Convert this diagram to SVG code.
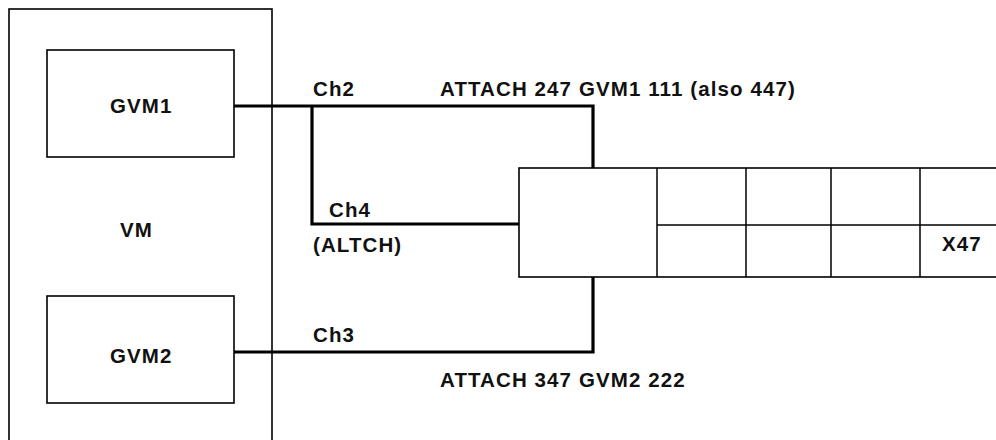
<svg xmlns="http://www.w3.org/2000/svg" width="996" height="440" viewBox="0 0 996 440">
<style>
.box{fill:#fff;stroke:#000;stroke-width:1.6}
.ln{fill:none;stroke:#000;stroke-width:1.5}
.conn{fill:none;stroke:#000;stroke-width:3.2;stroke-linejoin:miter}
text{font-family:"Liberation Sans",Arial,sans-serif;font-size:20.5px;font-weight:bold;letter-spacing:1.1px;fill:#111}
</style>
<rect width="996" height="440" fill="#fff"/>
<g id="vm">
<rect class="box" x="9" y="9" width="263" height="440"/>
<text x="120" y="237">VM</text>
</g>
<g id="gvm1">
<rect class="box" x="47" y="50" width="187" height="107"/>
<text x="110" y="113">GVM1</text>
</g>
<g id="gvm2">
<rect class="box" x="47" y="296" width="187" height="107"/>
<text x="110" y="363">GVM2</text>
</g>
<g id="connectors">
<polyline class="conn" points="234,106 593,106 593,168"/>
<polyline class="conn" points="312,106 312,224 519,224"/>
<polyline class="conn" points="234,352 593,352 593,277"/>
</g>
<g id="x47">
<rect class="box" x="519" y="168" width="490" height="109"/>
<line class="ln" x1="657" y1="168" x2="657" y2="277"/>
<line class="ln" x1="746" y1="168" x2="746" y2="277"/>
<line class="ln" x1="831" y1="168" x2="831" y2="277"/>
<line class="ln" x1="920" y1="168" x2="920" y2="277"/>
<line class="ln" x1="657" y1="225" x2="996" y2="225"/>
<text x="942" y="251">X47</text>
</g>
<g id="labels">
<text x="313" y="96">Ch2</text>
<text x="440" y="96">ATTACH 247 GVM1 111 (also 447)</text>
<text x="329" y="217">Ch4</text>
<text x="313" y="252">(ALTCH)</text>
<text x="313" y="342">Ch3</text>
<text x="440" y="387">ATTACH 347 GVM2 222</text>
</g>
</svg>
